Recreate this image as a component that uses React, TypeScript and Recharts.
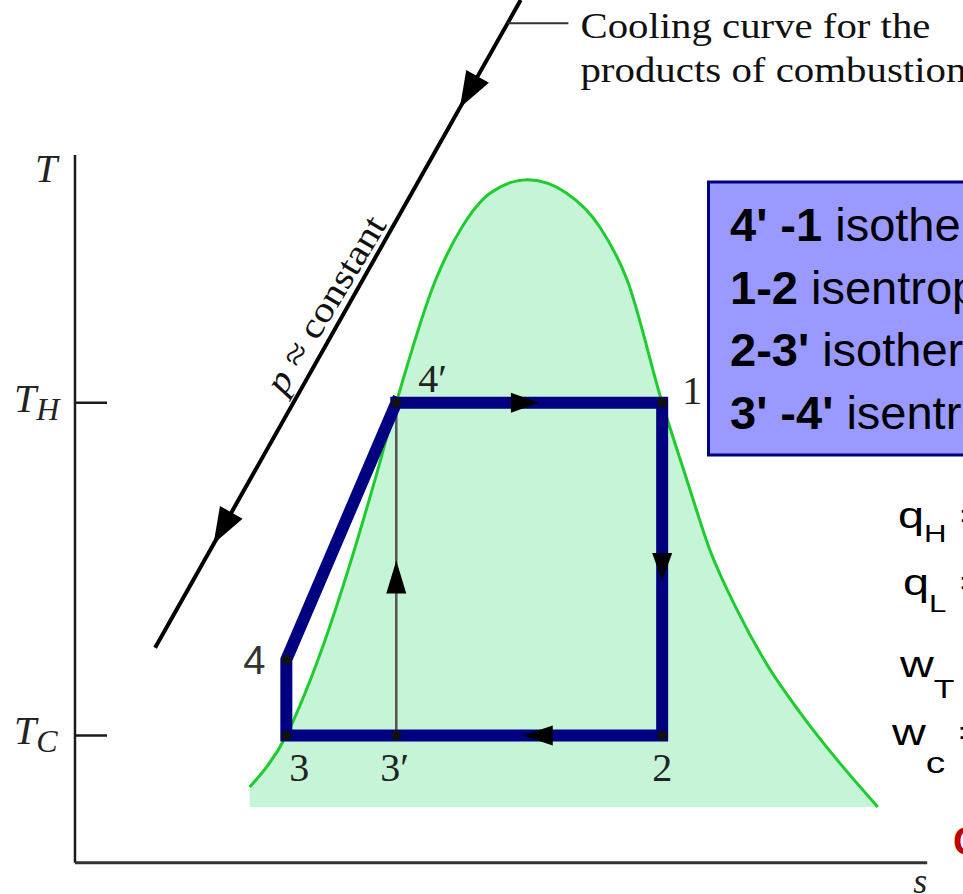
import { Area, ComposedChart, Line, XAxis, YAxis } from "recharts";

const WIDTH = 963;
const HEIGHT = 894;

// axis ranges in diagram units (entropy s, temperature T)
const S_MIN = -0.88;
const S_MAX = 10.42;
const T_MIN = -0.44;
const T_MAX = 12.19;
const S_AXIS_END = 10;
const T_AXIS_END = 10;

const T_HOT = 6.5;
const T_COLD = 1.8;
const T_TICK_LEN = 0.376;

// saturation dome
const DOME_S = [2.05, 2.48, 2.76, 3.52, 3.77, 4.23, 4.54, 4.87, 5.31, 5.77, 6.16, 6.48, 6.89, 7.18, 7.45, 7.77, 8.13, 8.51, 8.96, 9.42];
const DOME_T = [1.07, 1.8, 2.58, 5.41, 6.5, 8.23, 8.98, 9.46, 9.65, 9.46, 8.98, 8.23, 6.5, 5.41, 4.42, 3.57, 2.78, 2.12, 1.43, 0.79];
const DOME_BASE_T = 0.79;

// cycle states
const STATE_IDS = ["1", "2", "3", "3′", "4", "4′"];
const STATE_S = [6.89, 6.89, 2.48, 3.77, 2.48, 3.77];
const STATE_T = [T_HOT, T_COLD, T_COLD, T_COLD, 2.87, T_HOT];
const CYCLE_ORDER = ["4′", "1", "2", "3", "4", "4′"];

// products of combustion cooling line
const COOLING_S = [0.94, 5.23];
const COOLING_T = [3.04, 12.19];
const LEADER_S = [5.08, 5.79];
const LEADER_T = 11.86;

// flow direction arrows
const ARROW_S = [5.28, 6.89, 5.43, 3.77, 4.62, 1.73];
const ARROW_T = [T_HOT, 4.18, T_COLD, 4.04, 10.89, 4.73];
const ARROW_DIR = ["right", "down", "left", "up", "down-left", "down-left"];

const BOX_LINES = [
  ["4' -1", " isothermal"],
  ["1-2", " isentropic"],
  ["2-3'", " isothermal"],
  ["3' -4'", " isentropic"],
];

const SERIF = "'Liberation Serif', 'Times New Roman', serif";
const SANS = "'Liberation Sans', Arial, sans-serif";
const NAVY = "#000080";

const DIR_ANGLE: Record<string, number> = { right: 0, down: 90, left: 180, up: -90, "down-left": 119.5 };
const ARROW_SIZE: Record<string, [number, number]> = {
  right: [28, 10],
  down: [28, 10],
  left: [30, 10],
  up: [33, 10],
  "down-left": [36, 13],
};
const LABEL_OFFSET: Record<string, [number, number]> = {
  "1": [20, 1],
  "2": [-10, 46],
  "3": [3, 46],
  "3′": [-16, 46],
  "4": [-43, 14],
  "4′": [22, -11],
};

const stateAt = (id: string) => {
  const i = STATE_IDS.indexOf(id);
  return { id, s: STATE_S[i], T: STATE_T[i] };
};

const dome = DOME_S.map((s, i) => ({ s, T: DOME_T[i] }));
const states = STATE_IDS.map(stateAt);
const cycle = CYCLE_ORDER.map(stateAt);
const pumpLine = [stateAt("3′"), stateAt("4′")];
const cooling = COOLING_S.map((s, i) => ({ s, T: COOLING_T[i] }));
const leader = LEADER_S.map((s) => ({ s, T: LEADER_T }));
const arrows = ARROW_S.map((s, i) => ({ s, T: ARROW_T[i], dir: ARROW_DIR[i] }));
const yAxisLine = [
  { s: 0, T: 0 },
  { s: 0, T: T_AXIS_END },
];
const xAxisLine = [
  { s: 0, T: 0 },
  { s: S_AXIS_END, T: 0 },
];
const hotTick = [
  { s: 0, T: T_HOT },
  { s: T_TICK_LEN, T: T_HOT },
];
const coldTick = [
  { s: 0, T: T_COLD },
  { s: T_TICK_LEN, T: T_COLD },
];

function renderArrow(props: any) {
  const { cx, cy, index, payload } = props;
  const a = (DIR_ANGLE[payload.dir] * Math.PI) / 180;
  const [len, half] = ARROW_SIZE[payload.dir];
  const ux = Math.cos(a);
  const uy = Math.sin(a);
  const tx = cx + (ux * len) / 2;
  const ty = cy + (uy * len) / 2;
  const bx = cx - (ux * len) / 2;
  const by = cy - (uy * len) / 2;
  const pts = `${tx},${ty} ${bx - uy * half},${by + ux * half} ${bx + uy * half},${by - ux * half}`;
  return <polygon key={`arrow-${index}`} points={pts} fill="#000" />;
}

function renderStateDot(props: any) {
  const { cx, cy, index } = props;
  return <circle key={`dot-${index}`} cx={cx} cy={cy} r={5} fill="#111" />;
}

function renderStateLabel(props: any) {
  const { cx, cy, index, payload } = props;
  const [dx, dy] = LABEL_OFFSET[payload.id];
  const sans = payload.id === "4";
  return (
    <text
      key={`lbl-${index}`}
      x={cx + dx}
      y={cy + dy}
      fontSize={40}
      fontFamily={sans ? SANS : SERIF}
      fill={sans ? "#333" : "#222"}
    >
      {payload.id}
    </text>
  );
}

function tickLabel(sub: string) {
  return (props: any) => {
    const { cx, cy, index } = props;
    if (index !== 0) return <g key={`t-${index}`} />;
    return (
      <text key={`t-${index}`} x={cx - 61} y={cy + 9} fontFamily={SERIF} fontStyle="italic" fill="#222" fontSize={40}>
        T
        <tspan fontSize={32} dy={8}>
          {sub}
        </tspan>
      </text>
    );
  };
}

function renderYTitle(props: any) {
  const { cx, cy, index } = props;
  if (index !== 1) return <g key={`y-${index}`} />;
  return (
    <text key={`y-${index}`} x={cx - 40} y={cy + 27} fontFamily={SERIF} fontStyle="italic" fontSize={40} fill="#222">
      T
    </text>
  );
}

function renderXTitle(props: any) {
  const { cx, cy, index } = props;
  if (index !== 1) return <g key={`x-${index}`} />;
  return (
    <text key={`x-${index}`} x={cx - 14} y={cy + 30} fontFamily={SERIF} fontStyle="italic" fontSize={36} fill="#222">
      s
    </text>
  );
}

function renderLeaderText(props: any) {
  const { cx, cy, index } = props;
  if (index !== 1) return <g key={`c-${index}`} />;
  return (
    <text key={`c-${index}`} fontFamily={SERIF} fontSize={35} fill="#111">
      <tspan x={cx + 12} y={cy + 15} textLength={350} lengthAdjust="spacingAndGlyphs">
        Cooling curve for the
      </tspan>
      <tspan x={cx + 12} y={cy + 59} textLength={386} lengthAdjust="spacingAndGlyphs">
        products of combustion
      </tspan>
    </text>
  );
}

function Formula({ x, y, main, sub, subSize, subDy, eq }: any) {
  return (
    <g transform={`translate(${x},${y}) scale(1.3,1)`}>
      <text x={0} y={0} fontFamily={SANS} fontSize={36} fill="#000">
        {main}
        <tspan fontSize={subSize} dy={subDy}>
          {sub}
        </tspan>
        {eq ? (
          <tspan fontSize={36} dy={-subDy}>
            {" ="}
          </tspan>
        ) : null}
      </text>
    </g>
  );
}

const noAnim = { isAnimationActive: false, activeDot: false, legendType: "none" as const };

export default function App() {
  return (
    <div style={{ position: "absolute", left: 0, top: 0, width: WIDTH, height: HEIGHT, background: "#fff" }}>
      <ComposedChart width={WIDTH} height={HEIGHT} margin={{ top: 0, right: 0, bottom: 0, left: 0 }}>
        <XAxis type="number" dataKey="s" domain={[S_MIN, S_MAX]} hide allowDataOverflow />
        <YAxis type="number" domain={[T_MIN, T_MAX]} hide allowDataOverflow />

        <Area
          data={dome}
          dataKey="T"
          type="monotone"
          baseValue={DOME_BASE_T}
          fill="#C5F5D6"
          fillOpacity={1}
          stroke="#1FCC2E"
          strokeWidth={3}
          dot={false}
          {...noAnim}
        />

        <Line data={yAxisLine} dataKey="T" stroke="#1a1a1a" strokeWidth={2.5} dot={renderYTitle} {...noAnim} />
        <Line data={xAxisLine} dataKey="T" stroke="#333" strokeWidth={3} dot={renderXTitle} {...noAnim} />
        <Line data={hotTick} dataKey="T" stroke="#1a1a1a" strokeWidth={2.5} dot={tickLabel("H")} {...noAnim} />
        <Line data={coldTick} dataKey="T" stroke="#1a1a1a" strokeWidth={2.5} dot={tickLabel("C")} {...noAnim} />

        <Line data={cooling} dataKey="T" stroke="#000" strokeWidth={4} dot={false} {...noAnim} />
        <Line data={leader} dataKey="T" stroke="#333" strokeWidth={2} dot={renderLeaderText} {...noAnim} />

        <Line data={pumpLine} dataKey="T" stroke="#555" strokeWidth={2.5} dot={false} {...noAnim} />
        <Line data={arrows} dataKey="T" stroke="none" dot={renderArrow} {...noAnim} />
        <Line data={states} dataKey="T" stroke="none" dot={renderStateDot} {...noAnim} />

        <Line
          data={cycle}
          dataKey="T"
          type="linear"
          stroke={NAVY}
          strokeWidth={12}
          strokeLinejoin="miter"
          strokeLinecap="square"
          dot={false}
          {...noAnim}
        />

        <Line data={states} dataKey="T" stroke="none" dot={renderStateLabel} {...noAnim} />
      </ComposedChart>

      <svg
        width={WIDTH}
        height={HEIGHT}
        style={{ position: "absolute", left: 0, top: 0, pointerEvents: "none" }}
      >
        <text
          transform="translate(325,304) rotate(-59)"
          textAnchor="middle"
          dy="0.35em"
          fontFamily={SERIF}
          fontSize={36}
          fill="#111"
          textLength={200}
          lengthAdjust="spacingAndGlyphs"
        >
          <tspan fontStyle="italic">p</tspan> ≈ constant
        </text>

        <rect x={708.5} y={182} width={300} height={273} fill="#9999FF" stroke={NAVY} strokeWidth={3} />
        {BOX_LINES.map(([bold, rest], i) => (
          <text key={bold} x={730} y={241 + i * 62.7} fontFamily={SANS} fontSize={47} fill="#000">
            <tspan fontWeight="bold">{bold}</tspan>
            {rest}
          </text>
        ))}

        <Formula x={898} y={528} main="q" sub="H" subSize={24} subDy={14} eq />
        <Formula x={903} y={595} main="q" sub="L" subSize={24} subDy={17} eq />
        <Formula x={900} y={677} main="w" sub="T" subSize={26} subDy={21} eq />
        <Formula x={892} y={745} main="w" sub="c" subSize={30} subDy={28} eq />

        <text x={953} y={855} fontFamily={SANS} fontWeight="bold" fontSize={40} fill="#C00000">
          C
        </text>
      </svg>
    </div>
  );
}
